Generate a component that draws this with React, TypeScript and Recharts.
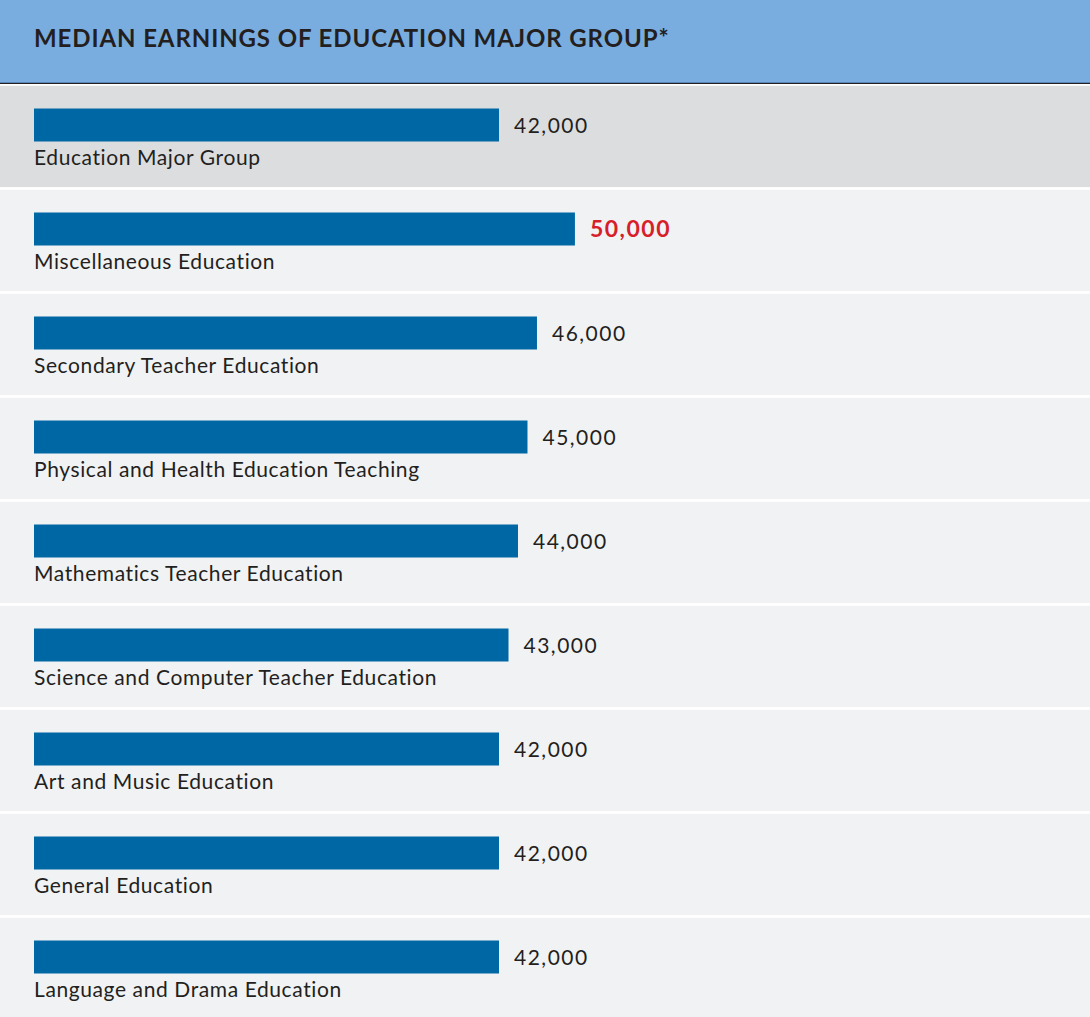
import React from "react";
import { BarChart, Bar, XAxis, YAxis } from "recharts";

const categories = [
  "Education Major Group",
  "Miscellaneous Education",
  "Secondary Teacher Education",
  "Physical and Health Education Teaching",
  "Mathematics Teacher Education",
  "Science and Computer Teacher Education",
  "Art and Music Education",
  "General Education",
  "Language and Drama Education",
];
const earnings = [42000, 50000, 46000, 45000, 44000, 43000, 42000, 42000, 42000];

const TITLE = "MEDIAN EARNINGS OF EDUCATION MAJOR GROUP*";

// axis start sits left of zero so the bar lengths match the original layout
const AXIS_MIN = -7000;
const AXIS_MAX = 93000;

const WIDTH = 1090;
const HEADER_H = 84;
const BAND = 104;
const PLOT_TOP = 0;
const CHART_H = PLOT_TOP + BAND * categories.length;
const BAR_SIZE = 33;
const BAR_LIFT = 11.5;

const BAR_COLOR = "#0067a5";
const TEXT_COLOR = "#231f20";
const HIGHLIGHT = "#d71f2a";
const FONT = "Lato, 'Noto Sans', sans-serif";

const data = categories.map((name, i) => ({ name, value: earnings[i] }));
const topIndex = earnings.indexOf(Math.max(...earnings.slice(1)));

const RowBackground = (props: any) => {
  const { y, height, index } = props;
  const top = y + height / 2 - BAND / 2;
  return (
    <rect
      x={0}
      y={top + 1.3}
      width={WIDTH}
      height={BAND - 2.7}
      fill={index === 0 ? "#dcdddf" : "#f1f2f4"}
    />
  );
};

const BarRow = (props: any) => {
  const { x, y, width, height, index } = props;
  const top = y - BAR_LIFT;
  const isTop = index === topIndex;
  return (
    <g>
      <rect x={x} y={top} width={width} height={height} fill={BAR_COLOR} />
      <text
        x={x + width + 15}
        y={top + height / 2 + 7.5}
        fill={isTop ? HIGHLIGHT : TEXT_COLOR}
        fontFamily={FONT}
        fontSize={isTop ? 23 : 21}
        fontWeight={isTop ? 700 : 400}
        letterSpacing={1.5}
      >
        {earnings[index].toLocaleString("en-US")}
      </text>
      <text
        x={x}
        y={top + height + 23}
        fill={TEXT_COLOR}
        fontFamily={FONT}
        fontSize={21}
        letterSpacing={0.6}
      >
        {categories[index]}
      </text>
    </g>
  );
};

export default function App() {
  return (
    <div style={{ width: WIDTH, height: 1017, overflow: "hidden", background: "#fff" }}>
      <style>{"body{margin:0}"}</style>
      <svg width={WIDTH} height={HEADER_H} style={{ display: "block" }}>
        <rect x={0} y={0} width={WIDTH} height={82} fill="#7aaddf" />
        <rect x={0} y={82} width={WIDTH} height={1} fill="#5a86ba" />
        <rect x={0} y={83} width={WIDTH} height={1} fill={TEXT_COLOR} />
        <text
          x={34}
          y={47}
          fill={TEXT_COLOR}
          fontFamily={FONT}
          fontSize={24}
          fontWeight={700}
          letterSpacing={0.9}
        >
          {TITLE}
        </text>
      </svg>
      <BarChart
        width={WIDTH}
        height={CHART_H}
        data={data}
        layout="vertical"
        barSize={BAR_SIZE}
        margin={{ top: PLOT_TOP, right: 107, bottom: 0, left: 34 }}
      >
        <XAxis type="number" domain={[AXIS_MIN, AXIS_MAX]} allowDataOverflow hide />
        <YAxis type="category" dataKey="name" hide />
        <Bar
          dataKey={(d: any) => [AXIS_MIN, d.value]}
          background={(p: any) => <RowBackground {...p} />}
          shape={(p: any) => <BarRow {...p} />}
          isAnimationActive={false}
        />
      </BarChart>
    </div>
  );
}
